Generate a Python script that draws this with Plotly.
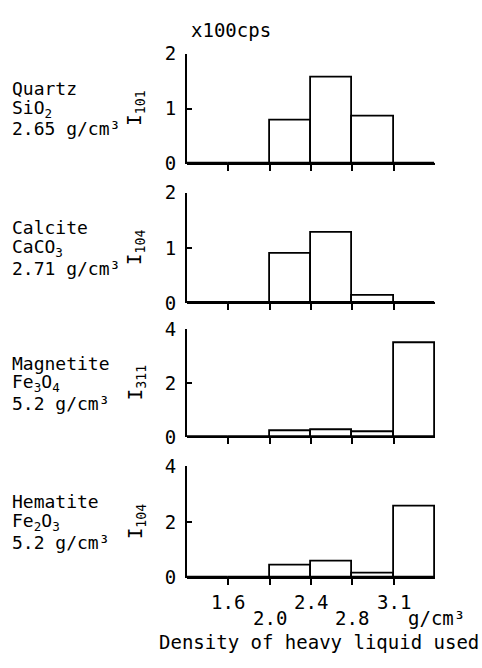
import plotly.graph_objects as go

# Density classes of the heavy liquid (g/cm3); bins lie between successive cut-offs
cutoffs = ["1.6", "2.0", "2.4", "2.8", "3.1"]
n_bins = len(cutoffs) + 1

# Diffraction peak intensity (x100 cps) recovered in each density fraction
minerals = ["Quartz", "Calcite", "Magnetite", "Hematite"]
formulas = ["SiO<sub>2</sub>", "CaCO<sub>3</sub>", "Fe<sub>3</sub>O<sub>4</sub>", "Fe<sub>2</sub>O<sub>3</sub>"]
densities = ["2.65 g/cm³", "2.71 g/cm³", "5.2 g/cm³", "5.2 g/cm³"]
peaks = ["I<sub>101</sub>", "I<sub>104</sub>", "I<sub>311</sub>", "I<sub>104</sub>"]

quartz = [0, 0, 0.78, 1.56, 0.86, 0]
calcite = [0, 0, 0.90, 1.27, 0.13, 0]
magnetite = [0, 0, 0.25, 0.27, 0.19, 3.49]
hematite = [0, 0, 0.43, 0.57, 0.16, 2.57]
series = [quartz, calcite, magnetite, hematite]

y_max = [2, 2, 4, 4]
y_ticks = [[0, 1, 2], [0, 1, 2], [0, 2, 4], [0, 2, 4]]

W, H = 482, 668
FONT = "DejaVu Sans Mono"
FS = 19
FS_SIDE = 18
INK = "black"

# panel extents in pixels (top, bottom) and shared horizontal extent
panels_px = [(44, 158), (188, 302), (329, 441), (471, 586)]
x_left_px, x_right_px = 187, 435


def fy(p):
    return 1 - p / H


def fx(p):
    return p / W


fig = go.Figure()
annotations = []
centers = [i + 0.5 for i in range(n_bins)]
edges = list(range(1, n_bins))

for k, vals in enumerate(series):
    n = k + 1
    xa = "x" if n == 1 else f"x{n}"
    ya = "y" if n == 1 else f"y{n}"
    fig.add_trace(go.Bar(
        x=centers, y=vals, width=1,
        marker=dict(color="white", line=dict(color=INK, width=1.8)),
        xaxis=xa, yaxis=ya, hoverinfo="skip", cliponaxis=False,
    ))
    top, bot = panels_px[k]
    fig.update_layout(**{
        ("xaxis" if n == 1 else f"xaxis{n}"): dict(
            domain=[fx(x_left_px), fx(x_right_px)], range=[0, n_bins],
            anchor=ya, showline=False,
            ticks="outside", ticklen=6, tickwidth=1.6, tickcolor=INK,
            tickvals=edges, showticklabels=False, showgrid=False, zeroline=False,
            fixedrange=True,
        ),
        ("yaxis" if n == 1 else f"yaxis{n}"): dict(
            domain=[fy(bot), fy(top)], range=[0, y_max[k]],
            anchor=xa, showline=True, linecolor=INK, linewidth=1.8,
            zeroline=True, zerolinecolor=INK, zerolinewidth=1.8,
            ticks="inside", ticklen=5, tickwidth=1.6, tickcolor=INK,
            tickvals=y_ticks[k], ticktext=[str(v) for v in y_ticks[k]],
            tickfont=dict(family=FONT, size=FS, color=INK),
            ticklabelstandoff=5,
            showgrid=False, fixedrange=True,
        ),
    })
    mid = (top + bot) / 2
    # mineral name, formula and density, left of the panel
    for j, line in enumerate([minerals[k], formulas[k], densities[k]]):
        annotations.append(dict(
            text=line, xref="paper", yref="paper", x=fx(10), y=fy(mid - 21 + 21 * j),
            xanchor="left", yanchor="middle", showarrow=False,
            font=dict(family=FONT, size=FS_SIDE, color=INK),
        ))
    # rotated reflection label
    annotations.append(dict(
        text=peaks[k], xref="paper", yref="paper", x=fx(136), y=fy(mid),
        xanchor="center", yanchor="middle", textangle=-90, showarrow=False,
        font=dict(family=FONT, size=FS, color=INK),
    ))

# staggered cut-off labels below the bottom panel
for i, lab in enumerate(cutoffs):
    annotations.append(dict(
        text=lab, xref="x4", yref="paper", x=edges[i], y=fy(611 if i % 2 == 0 else 628),
        xanchor="center", yanchor="middle", showarrow=False,
        font=dict(family=FONT, size=FS, color=INK),
    ))

annotations += [
    dict(text="g/cm³", xref="paper", yref="paper", x=fx(406), y=fy(628),
         xanchor="left", yanchor="middle", showarrow=False,
         font=dict(family=FONT, size=FS, color=INK)),
    dict(text="Density of heavy liquid used", xref="paper", yref="paper", x=fx(157), y=fy(653),
         xanchor="left", yanchor="middle", showarrow=False,
         font=dict(family=FONT, size=FS, color=INK)),
    dict(text="x100cps", xref="paper", yref="paper", x=fx(189), y=fy(20),
         xanchor="left", yanchor="middle", showarrow=False,
         font=dict(family=FONT, size=FS, color=INK)),
]

fig.update_layout(
    width=W, height=H, margin=dict(l=0, r=0, t=0, b=0),
    paper_bgcolor="white", plot_bgcolor="white",
    showlegend=False, bargap=0, annotations=annotations,
)

fig.write_html("out.html", config={"displayModeBar": False})
